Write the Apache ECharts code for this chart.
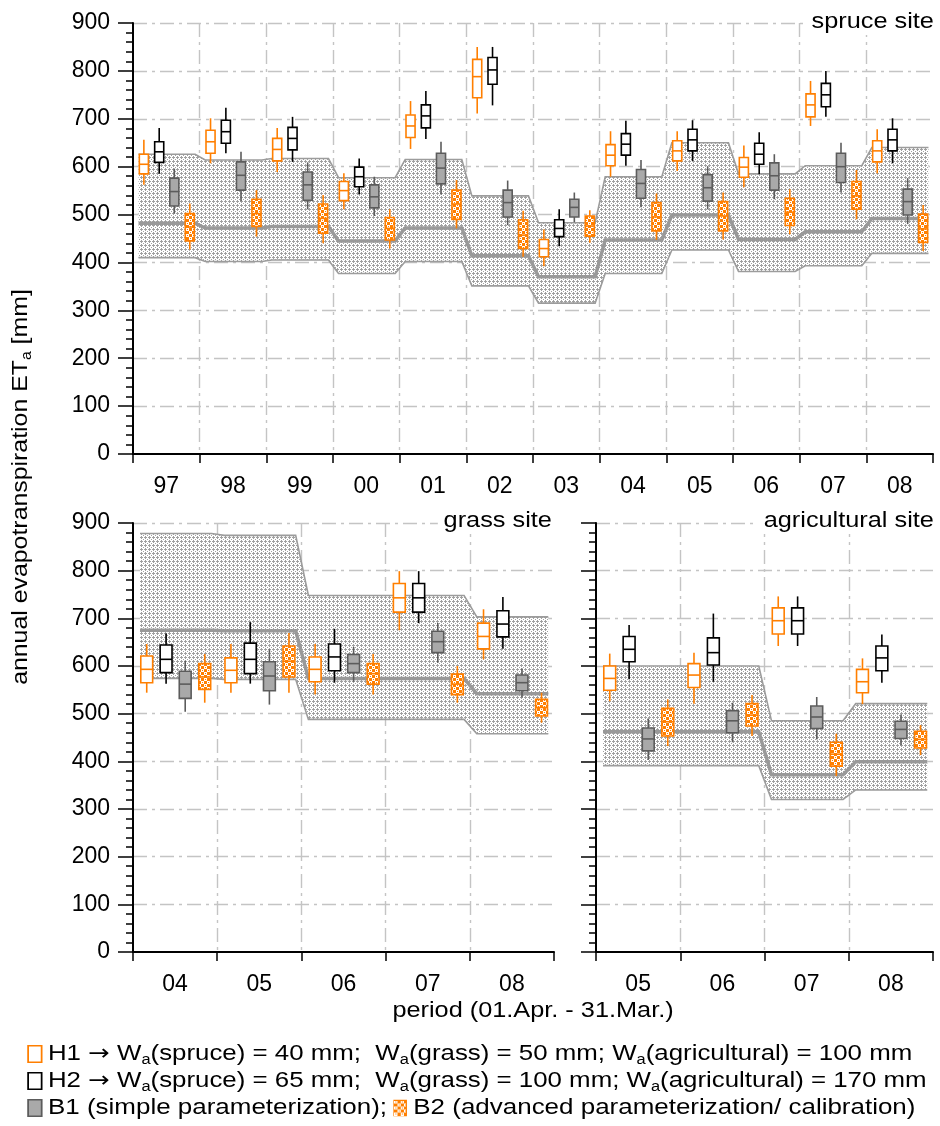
<!DOCTYPE html>
<html><head><meta charset="utf-8">
<script src="https://cdn.jsdelivr.net/npm/echarts@6/dist/echarts.min.js"></script>
<style>html,body{margin:0;padding:0;background:#fff}#c{width:940px;height:1126px}</style>
</head><body><div id="c"></div>
<script>
// ---------------- DATA ----------------
// box values: [whisker low, Q1, median, Q3, whisker high]
const spruceCats = ['97','98','99','00','01','02','03','04','05','06','07','08'];
const spruceH1 = [[562,585,605,626,656],[607,628,652,676,701],[589,612,636,659,681],[511,529,550,569,586],[637,661,685,708,737],[711,744,788,824,850],[392,412,429,448,469],[579,602,624,646,674],[591,612,633,654,674],[557,578,599,619,644],[685,704,729,752,779],[586,610,633,654,678]];
const spruceH2 = [[585,609,631,652,681],[628,649,673,697,723],[610,635,659,682,704],[542,558,579,599,617],[658,681,706,729,758],[728,772,802,828,850],[434,454,471,489,511],[602,624,647,669,696],[612,633,656,678,697],[584,605,626,649,672],[704,725,750,774,800],[607,633,656,678,701]];
const spruceB1 = [[502,518,548,576,596],[528,551,582,610,631],[511,530,562,589,609],[497,514,537,562,579],[542,564,597,628,652],[478,495,525,551,571],[484,495,515,532,546],[515,534,565,594,614],[511,528,556,583,601],[532,551,581,608,626],[546,567,600,628,650],[480,499,527,553,576]];
const spruceB2 = [[427,445,474,502,523],[454,475,502,532,551],[440,461,492,522,541],[429,447,471,494,511],[471,490,522,551,572],[412,429,457,489,508],[441,455,476,497,509],[447,466,495,525,544],[448,466,497,527,546],[459,477,505,534,553],[490,511,539,569,593],[424,442,470,501,520]];
const spruceBandLo  = [410,402,405,377,402,351,315,377,426,381,393,419];
const spruceBandMid = [482,472,475,445,472,414,370,447,499,448,464,492];
const spruceBandUp  = [626,614,617,577,615,539,483,579,650,585,602,640];

const grassCats = ['04','05','06','07','08'];
const grassH1 = [[544,565,593,621,646],[544,565,591,617,646],[540,567,593,619,646],[675,713,743,773,799],[614,636,662,690,719]];
const grassH2 = [[563,586,614,644,668],[563,584,614,648,692],[565,590,619,646,678],[690,713,743,773,799],[636,661,688,716,745]];
const grassB1 = [[504,532,562,589,611],[519,548,579,609,635],[567,586,605,624,640],[607,628,651,673,690],[534,548,565,581,595]];
const grassB2 = [[523,551,577,605,625],[544,577,610,642,669],[540,562,584,605,625],[523,540,562,583,600],[481,495,513,530,544]];
const grassBandLo  = [574,572,488,488,458];
const grassBandMid = [675,674,574,574,542];
const grassBandUp  = [878,874,748,748,703];

const agriCats = ['05','06','07','08'];
const agriH1 = [[526,549,574,600,626],[521,555,581,605,628],[642,667,695,722,746],[520,544,567,593,616]];
const agriH2 = [[572,609,635,662,686],[567,602,628,659,710],[642,667,695,722,746],[565,590,617,642,666]];
const agriB1 = [[403,422,447,470,490],[440,460,485,506,523],[446,469,493,516,535],[434,448,467,484,498]];
const agriB2 = [[432,453,483,511,530],[453,474,497,521,539],[369,390,415,440,458],[413,428,446,463,476]];
const agriBandLo  = [391,391,320,340];
const agriBandMid = [462,462,372,399];
const agriBandUp  = [600,600,485,521];

const yTicks = [0,100,200,300,400,500,600,700,800,900];

// ---------------- STYLE ----------------
const FONT = '"Liberation Sans", Arial, Helvetica, sans-serif';
const ORANGE = '#ff7f00';
const B1FILL = '#a9a9a9', B1LINE = '#5c5c5c';
const BAND_LINE = '#9c9c9c';
const GRID_DASH = [14,5,3,5];
const BOX_OFFSETS = [-0.337, -0.107, 0.12, 0.352];
const BOX_W = 0.16;
const BAND_L = -0.417, BAND_R = 0.432;

function makeCanvas(w, h, draw) {
  const c = document.createElement('canvas'); c.width = w; c.height = h;
  draw(c.getContext('2d')); return c;
}
const bandTile = makeCanvas(4, 4, g => {
  g.fillStyle = '#ffffff'; g.fillRect(0,0,4,4);
  g.fillStyle = '#a0a0a0';
  g.fillRect(1,0,1,1); g.fillRect(0,1,3,1); g.fillRect(1,2,1,1); g.fillRect(3,3,1,1);
});
const hatchTile = makeCanvas(6, 6, g => {
  g.fillStyle = ORANGE; g.fillRect(0,0,6,6);
  g.fillStyle = '#ffffff';
  g.fillRect(0,0,3,3); g.fillRect(3,3,3,3);
  g.fillStyle = ORANGE;
  g.fillRect(1,1,1,1); g.fillRect(4,4,1,1);
});
const hatchIcon = makeCanvas(11, 15, g => {
  const p = g.createPattern(hatchTile, 'repeat');
  g.fillStyle = p; g.fillRect(0,0,11,15);
});

const boxStyles = [
  {stroke: ORANGE, fill: '#ffffff', lw: 1.6},
  {stroke: '#000000', fill: '#ffffff', lw: 1.6},
  {stroke: B1LINE, fill: B1FILL, lw: 1.6},
  {stroke: ORANGE, fill: {image: hatchTile, repeat: 'repeat'}, lw: 1.6}
];

function makeBoxRender(k) {
  const off = BOX_OFFSETS[k], st = boxStyles[k];
  return function (params, api) {
    const i = api.value(0);
    const bw = api.size([1, 0])[0];
    const cx = api.coord([i, 0])[0] + off * bw;
    const w = BOX_W * bw - st.lw;
    const y = d => api.coord([i, api.value(d)])[1];
    const yLow = y(1), yQ1 = y(2), yMed = y(3), yQ3 = y(4), yHigh = y(5);
    const ls = {stroke: st.stroke, lineWidth: st.lw};
    return {type: 'group', silent: true, children: [
      {type: 'line', shape: {x1: cx, y1: yHigh, x2: cx, y2: yQ3}, style: ls},
      {type: 'line', shape: {x1: cx, y1: yQ1, x2: cx, y2: yLow}, style: ls},
      {type: 'rect', shape: {x: cx - w / 2, y: yQ3, width: w, height: yQ1 - yQ3},
        style: {fill: st.fill, stroke: st.stroke, lineWidth: st.lw}},
      {type: 'line', shape: {x1: cx - w / 2, y1: yMed, x2: cx + w / 2, y2: yMed}, style: ls}
    ]};
  };
}

function bandRender(params, api) {
  if (params.dataIndexInside !== 0) return null;
  const n = params.dataInsideLength;
  const bw = api.size([1, 0])[0];
  const lo = [], mid = [], up = [];
  for (let j = 0; j < n; j++) {
    const i = api.value(0, j);
    const cx = api.coord([i, 0])[0];
    const xl = cx + BAND_L * bw, xr = cx + BAND_R * bw;
    const yl = api.coord([i, api.value(1, j)])[1];
    const ym = api.coord([i, api.value(2, j)])[1];
    const yu = api.coord([i, api.value(3, j)])[1];
    lo.push([xl, yl], [xr, yl]);
    mid.push([xl, ym], [xr, ym]);
    up.push([xl, yu], [xr, yu]);
  }
  const poly = up.concat(lo.slice().reverse());
  return {type: 'group', silent: true, children: [
    {type: 'polygon', shape: {points: poly}, style: {fill: {image: bandTile, repeat: 'repeat'}, stroke: 'none'}},
    {type: 'polyline', shape: {points: lo}, style: {stroke: BAND_LINE, lineWidth: 1.6, fill: 'none'}},
    {type: 'polyline', shape: {points: up}, style: {stroke: BAND_LINE, lineWidth: 1.6, fill: 'none'}},
    {type: 'polyline', shape: {points: mid}, style: {stroke: '#999999', lineWidth: 3.5, fill: 'none'}}
  ]};
}

function panelSeries(p, cats, boxes, lo, mid, up) {
  const out = [{
    type: 'custom', xAxisIndex: p, yAxisIndex: p, z: 2,
    renderItem: bandRender,
    encode: {x: 0, y: [1, 2, 3]},
    data: cats.map((c, i) => [i, lo[i], mid[i], up[i]])
  }];
  boxes.forEach((arr, k) => {
    out.push({
      type: 'custom', xAxisIndex: p, yAxisIndex: p, z: 3 + k,
      renderItem: makeBoxRender(k),
      encode: {x: 0, y: [1, 2, 3, 4, 5]},
      data: arr.map((v, i) => [i].concat(v))
    });
  });
  return out;
}

const gridLine = {show: true, lineStyle: {color: '#c4c4c4', width: 1.4, type: GRID_DASH}};

function xAxisOf(g, cats) {
  return {
    type: 'category', gridIndex: g, data: cats, boundaryGap: true,
    axisLine: {show: true, onZero: false, lineStyle: {color: '#000', width: 2}},
    axisTick: {show: true, length: 9, interval: 0, lineStyle: {color: '#000', width: 1.5}},
    axisLabel: {show: true, interval: 0, margin: 21, fontSize: 23, fontFamily: FONT, color: '#000'},
    splitLine: Object.assign({interval: 0, showMinLine: false, showMaxLine: false}, gridLine)
  };
}
function yAxisOf(g, showLabels) {
  return {
    type: 'value', gridIndex: g, min: yTicks[0], max: yTicks[yTicks.length - 1], interval: yTicks[1] - yTicks[0],
    axisLine: {show: true, lineStyle: {color: '#000', width: 2}},
    axisTick: {show: true, length: 15, lineStyle: {color: '#000', width: 1.5}},
    minorTick: {show: true, splitNumber: 5, length: 7, lineStyle: {color: '#000', width: 1.5}},
    axisLabel: {show: showLabels, margin: 23, fontSize: 23, fontFamily: FONT, color: '#000'},
    splitLine: Object.assign({showMinLine: false}, gridLine),
    minorSplitLine: {show: false}
  };
}

const SX = 1.15;
const LX = 1.175;
const baseText = {fontSize: 22, fontFamily: FONT, fill: '#000'};
const subStyle = {fontSize: 14, fontFamily: FONT, lineHeight: 11, verticalAlign: 'bottom'};
const arrStyle = {fontSize: 22, fontFamily: '"DejaVu Sans", sans-serif', lineHeight: 26};
const iconBase = {width: 10, height: 15, borderWidth: 1.5, fontFamily: FONT};

const option = {
  animation: false,
  backgroundColor: '#ffffff',
  grid: [
    {left: 133, right: 7, top: 23, bottom: 672},
    {left: 133, right: 386, top: 523, bottom: 174},
    {left: 596, right: 7, top: 523, bottom: 174}
  ],
  xAxis: [xAxisOf(0, spruceCats), xAxisOf(1, grassCats), xAxisOf(2, agriCats)],
  yAxis: [yAxisOf(0, true), yAxisOf(1, true), yAxisOf(2, false)],
  series: [].concat(
    panelSeries(0, spruceCats, [spruceH1, spruceH2, spruceB1, spruceB2], spruceBandLo, spruceBandMid, spruceBandUp),
    panelSeries(1, grassCats, [grassH1, grassH2, grassB1, grassB2], grassBandLo, grassBandMid, grassBandUp),
    panelSeries(2, agriCats, [agriH1, agriH2, agriB1, agriB2], agriBandLo, agriBandMid, agriBandUp)
  ),
  graphic: [
    {type: 'text', x: 935, y: 22, scaleX: SX, z: 100, style: Object.assign({}, baseText,
      {text: 'spruce site', align: 'right', verticalAlign: 'middle', backgroundColor: '#fff', padding: [2, 1, 2, 5]})},
    {type: 'text', x: 553, y: 521, scaleX: SX, z: 100, style: Object.assign({}, baseText,
      {text: 'grass site', align: 'right', verticalAlign: 'middle', backgroundColor: '#fff', padding: [2, 1, 2, 5]})},
    {type: 'text', x: 935, y: 521, scaleX: SX, z: 100, style: Object.assign({}, baseText,
      {text: 'agricultural site', align: 'right', verticalAlign: 'middle', backgroundColor: '#fff', padding: [2, 1, 2, 5]})},
    {type: 'text', x: 21, y: 487, rotation: Math.PI / 2, scaleX: 1.13, z: 100, style: Object.assign({}, baseText,
      {text: 'annual evapotranspiration ET{sub|a} [mm]', lineHeight: 26, align: 'center', verticalAlign: 'middle', rich: {sub: subStyle}})},
    {type: 'text', x: 533, y: 1011, scaleX: SX, z: 100, style: Object.assign({}, baseText,
      {text: 'period (01.Apr. - 31.Mar.)', align: 'center', verticalAlign: 'middle'})},
    {type: 'text', x: 29, y: 1054, scaleX: LX, z: 100, style: Object.assign({}, baseText,
      {text: '{h1|} H1 {arr|\u2192} W{sub|a}(spruce) = 40 mm;  W{sub|a}(grass) = 50 mm; W{sub|a}(agricultural) = 100 mm',
       lineHeight: 26, align: 'left', verticalAlign: 'middle',
       rich: {sub: subStyle, arr: arrStyle, h1: Object.assign({}, iconBase, {backgroundColor: '#fff', borderColor: ORANGE})}})},
    {type: 'text', x: 29, y: 1081, scaleX: LX, z: 100, style: Object.assign({}, baseText,
      {text: '{h2|} H2 {arr|\u2192} W{sub|a}(spruce) = 65 mm;  W{sub|a}(grass) = 100 mm; W{sub|a}(agricultural) = 170 mm',
       lineHeight: 26, align: 'left', verticalAlign: 'middle',
       rich: {sub: subStyle, arr: arrStyle, h2: Object.assign({}, iconBase, {backgroundColor: '#fff', borderColor: '#000'})}})},
    {type: 'text', x: 29, y: 1108, scaleX: 1.18, z: 100, style: Object.assign({}, baseText,
      {text: '{b1|} B1 (simple parameterization); {b2|} B2 (advanced parameterization/ calibration)',
       lineHeight: 26, align: 'left', verticalAlign: 'middle',
       rich: {b1: Object.assign({}, iconBase, {backgroundColor: B1FILL, borderColor: B1LINE}),
              b2: Object.assign({}, iconBase, {backgroundColor: {image: hatchIcon}, borderColor: ORANGE})}})}
  ]
};

const chart = echarts.init(document.getElementById('c'), null, {renderer: 'canvas', width: 940, height: 1126});
chart.setOption(option);
</script>
</body></html>
